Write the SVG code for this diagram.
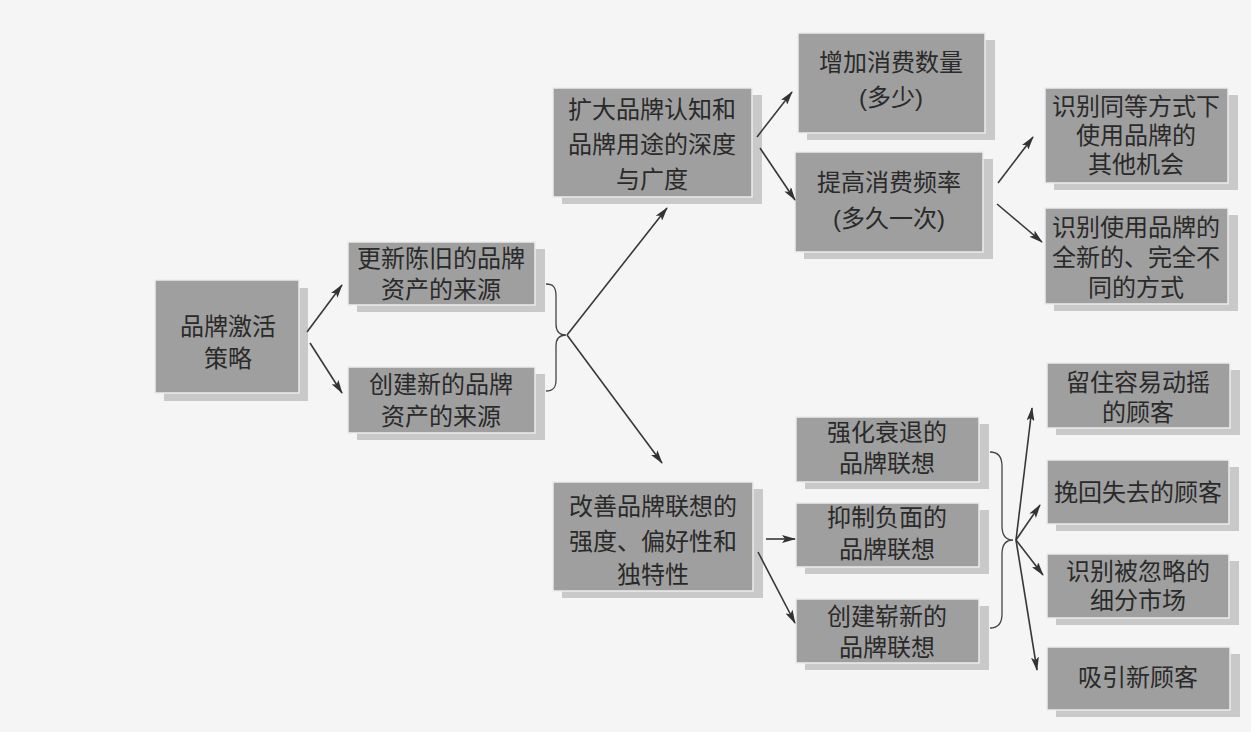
<svg xmlns="http://www.w3.org/2000/svg" width="1251" height="732" viewBox="0 0 1251 732">
<defs>
<style>
.bx{fill:#9f9f9f;stroke:#ececec;stroke-width:1.5}
.sh{fill:#c9c9c9}
.t{font-family:"Liberation Sans","Noto Sans CJK SC",sans-serif;font-size:24px;fill:#2a2a2a;text-anchor:middle}
.c{fill:none;stroke:#383838;stroke-width:1.6}
.br{fill:none;stroke:#444;stroke-width:1.3}
</style>
<marker id="ah" viewBox="0 0 14 8" refX="13" refY="4" markerWidth="14" markerHeight="8" markerUnits="userSpaceOnUse" orient="auto">
<path d="M0,0 L14,4 L0,8 L3,4 z" fill="#333"/>
</marker>
</defs>
<rect x="0" y="0" width="1251" height="732" fill="#f5f5f5"/>

<g id="n-root">
<rect class="sh" x="164" y="288" width="144" height="113"/>
<rect class="bx" x="155" y="280" width="144" height="113"/>
<text class="t"><tspan x="228" y="335">品牌激活</tspan><tspan x="228" y="367">策略</tspan></text>
</g>
<g id="n-renew">
<rect class="sh" x="357" y="249" width="188" height="63"/>
<rect class="bx" x="348" y="242" width="187" height="63"/>
<text class="t"><tspan x="441" y="267">更新陈旧的品牌</tspan><tspan x="441" y="298">资产的来源</tspan></text>
</g>
<g id="n-create">
<rect class="sh" x="357" y="374" width="188" height="66"/>
<rect class="bx" x="348" y="367" width="187" height="66"/>
<text class="t"><tspan x="441" y="393">创建新的品牌</tspan><tspan x="441" y="425">资产的来源</tspan></text>
</g>
<g id="n-expand">
<rect class="sh" x="562" y="95" width="200" height="109"/>
<rect class="bx" x="553" y="88" width="199" height="109"/>
<text class="t"><tspan x="652" y="118">扩大品牌认知和</tspan><tspan x="652" y="153">品牌用途的深度</tspan><tspan x="652" y="188">与广度</tspan></text>
</g>
<g id="n-quantity">
<rect class="sh" x="807" y="40" width="188" height="100"/>
<rect class="bx" x="798" y="33" width="187" height="100"/>
<text class="t"><tspan x="891" y="71">增加消费数量</tspan><tspan x="891" y="106">(多少)</tspan></text>
</g>
<g id="n-frequency">
<rect class="sh" x="804" y="159" width="189" height="100"/>
<rect class="bx" x="795" y="152" width="188" height="100"/>
<text class="t"><tspan x="889" y="191">提高消费频率</tspan><tspan x="889" y="227">(多久一次)</tspan></text>
</g>
<g id="n-same">
<rect class="sh" x="1054" y="95" width="184" height="95"/>
<rect class="bx" x="1045" y="88" width="183" height="95"/>
<text class="t"><tspan x="1136" y="115">识别同等方式下</tspan><tspan x="1136" y="144">使用品牌的</tspan><tspan x="1136" y="173">其他机会</tspan></text>
</g>
<g id="n-new-way">
<rect class="sh" x="1054" y="215" width="184" height="96"/>
<rect class="bx" x="1045" y="208" width="183" height="96"/>
<text class="t"><tspan x="1136" y="236">识别使用品牌的</tspan><tspan x="1136" y="266">全新的、完全不</tspan><tspan x="1136" y="296">同的方式</tspan></text>
</g>
<g id="n-improve">
<rect class="sh" x="562" y="489" width="201" height="109"/>
<rect class="bx" x="553" y="482" width="200" height="109"/>
<text class="t"><tspan x="653" y="515">改善品牌联想的</tspan><tspan x="653" y="550">强度、偏好性和</tspan><tspan x="653" y="583">独特性</tspan></text>
</g>
<g id="n-strengthen">
<rect class="sh" x="805" y="424" width="184" height="65"/>
<rect class="bx" x="796" y="417" width="183" height="65"/>
<text class="t"><tspan x="887" y="441">强化衰退的</tspan><tspan x="887" y="472">品牌联想</tspan></text>
</g>
<g id="n-suppress">
<rect class="sh" x="805" y="510" width="184" height="64"/>
<rect class="bx" x="796" y="503" width="183" height="64"/>
<text class="t"><tspan x="887" y="526">抑制负面的</tspan><tspan x="887" y="558">品牌联想</tspan></text>
</g>
<g id="n-brandnew">
<rect class="sh" x="805" y="606" width="184" height="64"/>
<rect class="bx" x="796" y="599" width="183" height="64"/>
<text class="t"><tspan x="887" y="625">创建崭新的</tspan><tspan x="887" y="656">品牌联想</tspan></text>
</g>
<g id="n-retain">
<rect class="sh" x="1056" y="370" width="184" height="65"/>
<rect class="bx" x="1047" y="363" width="183" height="65"/>
<text class="t"><tspan x="1138" y="391">留住容易动摇</tspan><tspan x="1138" y="421">的顾客</tspan></text>
</g>
<g id="n-regain">
<rect class="sh" x="1056" y="467" width="183" height="64"/>
<rect class="bx" x="1047" y="460" width="182" height="64"/>
<text class="t" x="1138" y="501">挽回失去的顾客</text>
</g>
<g id="n-segment">
<rect class="sh" x="1056" y="561" width="183" height="64"/>
<rect class="bx" x="1047" y="554" width="182" height="64"/>
<text class="t"><tspan x="1138" y="580">识别被忽略的</tspan><tspan x="1138" y="609">细分市场</tspan></text>
</g>
<g id="n-attract">
<rect class="sh" x="1056" y="654" width="184" height="63"/>
<rect class="bx" x="1047" y="647" width="183" height="63"/>
<text class="t" x="1138" y="686">吸引新顾客</text>
</g>

<g id="connectors">
<line class="c" x1="307" y1="332" x2="342" y2="285" marker-end="url(#ah)"/>
<line class="c" x1="310" y1="343" x2="342" y2="393" marker-end="url(#ah)"/>
<path class="br" d="M546,284 C553,284 556,287 556,296 L556,324 C556,331 559,335 566,335 C559,335 556,339 556,346 L556,380 C556,388 553,391 546,391"/>
<line class="c" x1="567" y1="335" x2="667" y2="208" marker-end="url(#ah)"/>
<line class="c" x1="567" y1="335" x2="662" y2="463" marker-end="url(#ah)"/>
<line class="c" x1="757" y1="137" x2="792" y2="92" marker-end="url(#ah)"/>
<line class="c" x1="760" y1="148" x2="795" y2="200" marker-end="url(#ah)"/>
<line class="c" x1="998" y1="183" x2="1033" y2="137" marker-end="url(#ah)"/>
<line class="c" x1="997" y1="204" x2="1042" y2="242" marker-end="url(#ah)"/>
<line class="c" x1="766" y1="539" x2="795" y2="539" marker-end="url(#ah)"/>
<line class="c" x1="758" y1="552" x2="795" y2="623" marker-end="url(#ah)"/>
<path class="br" d="M990,452 C998,452 1002,456 1002,466 L1002,526 C1002,535 1006,540 1013,540 C1006,540 1002,545 1002,554 L1002,614 C1002,624 998,628 990,628"/>
<line class="c" x1="1016" y1="540" x2="1032" y2="408" marker-end="url(#ah)"/>
<line class="c" x1="1016" y1="540" x2="1040" y2="505" marker-end="url(#ah)"/>
<line class="c" x1="1016" y1="540" x2="1043" y2="575" marker-end="url(#ah)"/>
<line class="c" x1="1016" y1="540" x2="1037" y2="670" marker-end="url(#ah)"/>
</g>
</svg>
